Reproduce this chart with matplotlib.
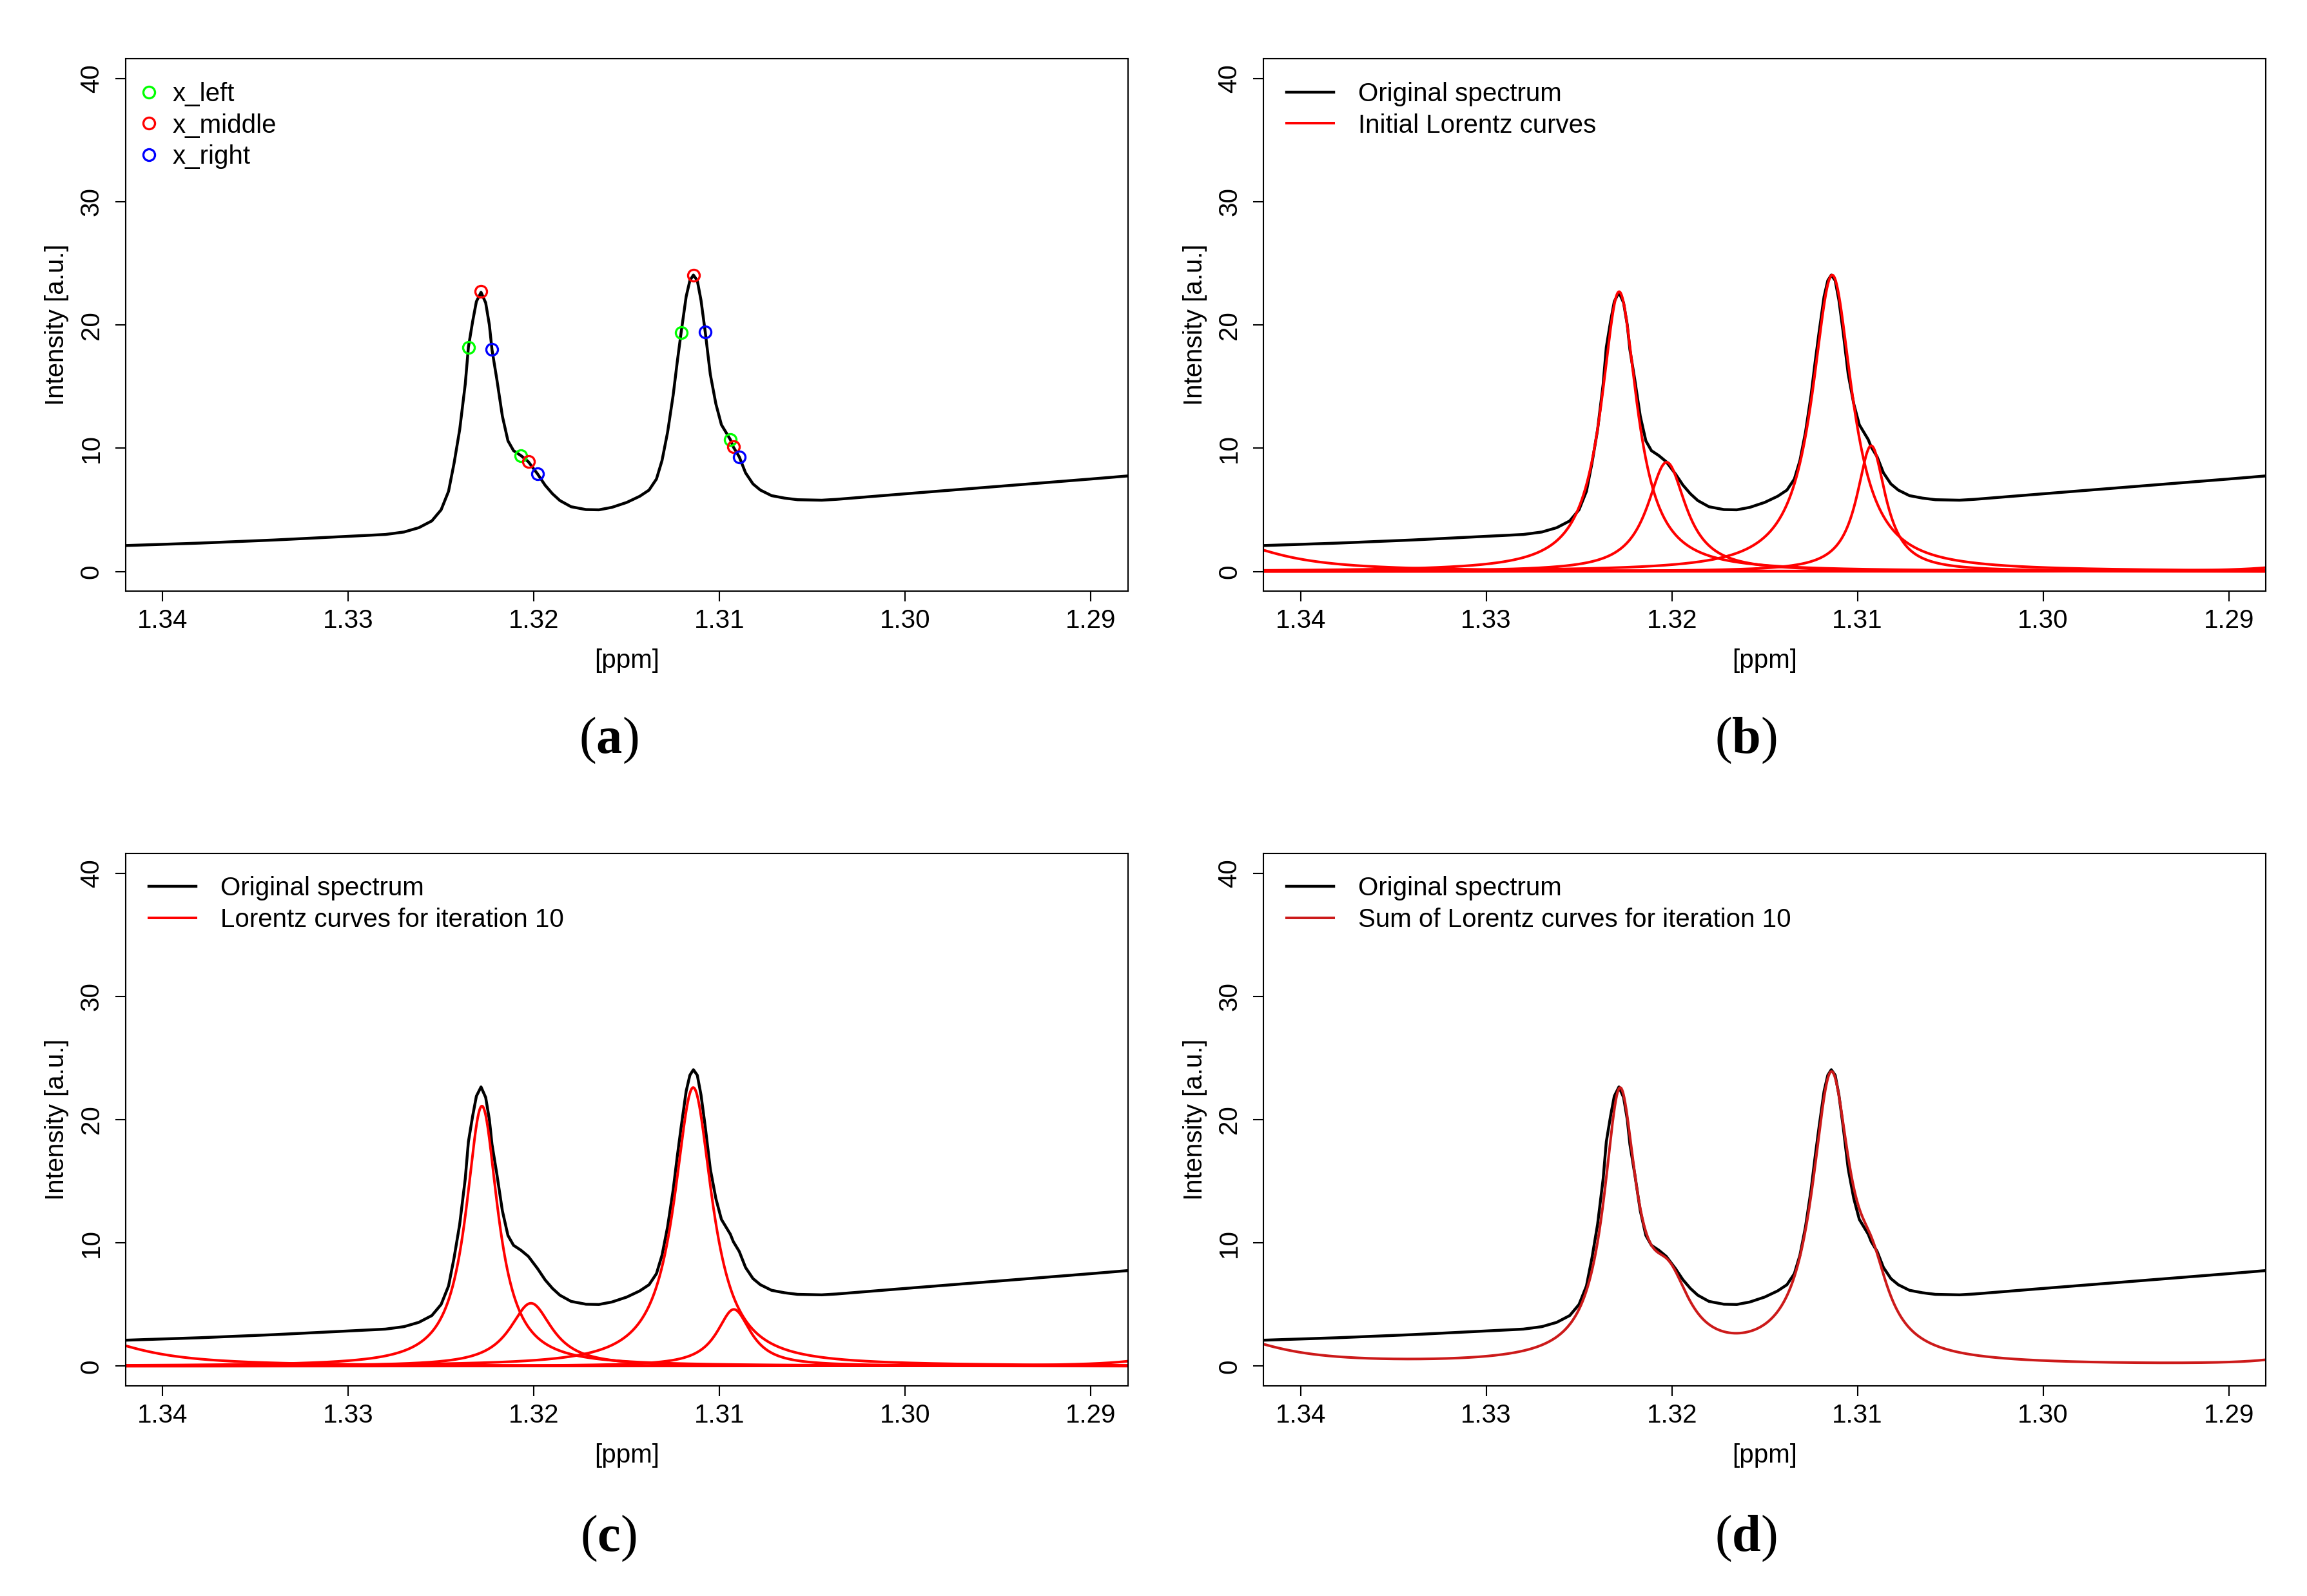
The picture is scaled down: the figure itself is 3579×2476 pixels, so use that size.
import matplotlib
matplotlib.use('Agg')
import matplotlib.pyplot as plt
import numpy as np

plt.rcParams['font.family'] = ['Liberation Sans', 'DejaVu Sans']
plt.rcParams['mathtext.fontset'] = 'custom'
plt.rcParams['mathtext.rm'] = 'Liberation Serif'
plt.rcParams['mathtext.bf'] = 'Liberation Serif:bold'

# original spectrum (ppm, intensity)
spec_ppm = [1.3420, 1.3380, 1.3340, 1.3300, 1.3280, 1.3270, 1.3262, 1.3255, 1.3250,
            1.3246, 1.3243, 1.3240, 1.3237, 1.32353, 1.3233, 1.3231, 1.32285, 1.3226,
            1.3224, 1.32226, 1.3220, 1.3217, 1.3214, 1.3211, 1.3207, 1.3203, 1.3200,
            1.3198, 1.3194, 1.3190, 1.3186, 1.3180, 1.3172, 1.3165, 1.3158, 1.3150,
            1.3143, 1.3138, 1.3134, 1.3131, 1.3128, 1.3125, 1.31228, 1.31207, 1.3118,
            1.3116, 1.31141, 1.3112, 1.3110, 1.31077, 1.3105, 1.3102, 1.3099, 1.30942,
            1.30926, 1.30894, 1.3086, 1.3082, 1.3078, 1.3072, 1.3065, 1.3058, 1.3045,
            1.3037, 1.3000, 1.2950, 1.2900, 1.2880]
spec_int = [2.10, 2.30, 2.55, 2.85, 3.00, 3.20, 3.55, 4.10, 5.00,
            6.50, 8.80, 11.5, 15.2, 18.2, 20.3, 21.9, 22.65, 21.8,
            20.0, 18.0, 15.6, 12.6, 10.6, 9.8, 9.4, 8.9, 8.3,
            7.9, 7.0, 6.3, 5.75, 5.25, 5.02, 5.0, 5.2, 5.6,
            6.1, 6.6, 7.5, 9.0, 11.3, 14.3, 17.0, 19.4, 22.3,
            23.6, 24.05, 23.6, 22.0, 19.4, 16.0, 13.6, 11.9, 10.7,
            10.1, 9.3, 8.0, 7.1, 6.6, 6.15, 5.95, 5.82, 5.78,
            5.85, 6.30, 6.90, 7.50, 7.75]

# x_left / x_middle / x_right markers on the spectrum
left_ppm = [1.32353, 1.3207, 1.31207, 1.30942]
left_int = [18.2, 9.4, 19.4, 10.7]
mid_ppm = [1.32285, 1.3203, 1.31141, 1.30926]
mid_int = [22.7, 8.9, 24.05, 10.1]
right_ppm = [1.32226, 1.3198, 1.31077, 1.30894]
right_int = [18.0, 7.9, 19.45, 9.3]

# Lorentz parameters (centre [ppm], height, half width [ppm])
init_center = [1.32284, 1.32028, 1.31136, 1.30926, 1.3445, 1.2840]
init_height = [22.7, 8.86, 24.05, 10.2, 2.57, 2.5]
init_width = [0.00118, 0.00127, 0.00132, 0.00095, 0.0036, 0.0015]

it10_center = [1.32280, 1.32016, 1.31142, 1.30923, 1.3445, 1.2840]
it10_height = [21.1, 5.1, 22.6, 4.6, 2.45, 2.9]
it10_width = [0.00105, 0.00140, 0.00125, 0.00112, 0.0036, 0.0016]

xgrid = np.linspace(1.342, 1.288, 3000)


def lorentz(x, c, h, w):
    return h * w ** 2 / ((x - c) ** 2 + w ** 2)


FS = 29
LW_BLACK = 3.2
LW_RED = 2.9
fig = plt.figure(figsize=(35.8, 24.76), dpi=100)
W, H = 0.4344, 0.3336
axa = fig.add_axes([0.0544, 0.6296, W, H])
axb = fig.add_axes([0.5475, 0.6296, W, H])
axc = fig.add_axes([0.0544, 0.1317, W, H])
axd = fig.add_axes([0.5475, 0.1317, W, H])


def style(ax):
    ax.set_xlim(1.342, 1.288)
    ax.set_ylim(-1.6, 41.6)
    ax.set_xticks([1.34, 1.33, 1.32, 1.31, 1.30, 1.29])
    ax.set_xticklabels(['1.34', '1.33', '1.32', '1.31', '1.30', '1.29'])
    ax.set_yticks([0, 10, 20, 30, 40])
    for s in ax.spines.values():
        s.set_linewidth(1.5)
    ax.tick_params(axis='both', direction='out', length=11.5, width=1.5, labelsize=FS)
    ax.tick_params(axis='x', pad=8)
    ax.tick_params(axis='y', pad=13, labelrotation=90)
    for lbl in ax.get_yticklabels():
        lbl.set_va('center')
    ax.set_xlabel('[ppm]', fontsize=FS, labelpad=17)
    ax.set_ylabel('Intensity [a.u.]', fontsize=FS, labelpad=11)


for ax in (axa, axb, axc, axd):
    style(ax)

# (a)
axa.plot(spec_ppm, spec_int, color='black', lw=LW_BLACK)
axa.plot(left_ppm, left_int, ls='none', marker='o', ms=13, mfc='none', mec='#00FF00', mew=2.4, label='x_left')
axa.plot(mid_ppm, mid_int, ls='none', marker='o', ms=13, mfc='none', mec='#FF0000', mew=2.4, label='x_middle')
axa.plot(right_ppm, right_int, ls='none', marker='o', ms=13, mfc='none', mec='#0000FF', mew=2.4, label='x_right')
axa.legend(loc='upper left', bbox_to_anchor=(0.0103, 0.957), frameon=False, fontsize=FS,
           borderaxespad=0, borderpad=0, handlelength=1.0, handletextpad=0.4,
           labelspacing=0.27, numpoints=1)

# (b)
axb.plot(spec_ppm, spec_int, color='black', lw=LW_BLACK, label='Original spectrum')
for i, (c, h, w) in enumerate(zip(init_center, init_height, init_width)):
    axb.plot(xgrid, lorentz(xgrid, c, h, w), color='#FF0000', lw=LW_RED,
             label='Initial Lorentz curves' if i == 0 else None)

# (c)
axc.plot(spec_ppm, spec_int, color='black', lw=LW_BLACK, label='Original spectrum')
for i, (c, h, w) in enumerate(zip(it10_center, it10_height, it10_width)):
    axc.plot(xgrid, lorentz(xgrid, c, h, w), color='#FF0000', lw=LW_RED,
             label='Lorentz curves for iteration 10' if i == 0 else None)

# (d)
total = np.zeros_like(xgrid)
for c, h, w in zip(it10_center, it10_height, it10_width):
    total += lorentz(xgrid, c, h, w)
axd.plot(spec_ppm, spec_int, color='black', lw=LW_BLACK, label='Original spectrum')
axd.plot(xgrid, total, color='#CC1A1A', lw=LW_RED, label='Sum of Lorentz curves for iteration 10')

for ax in (axb, axc, axd):
    ax.legend(loc='upper left', bbox_to_anchor=(0.0232, 0.957), frameon=False, fontsize=FS,
              borderaxespad=0, borderpad=0, handlelength=1.81, handletextpad=0.94,
              labelspacing=0.27)

# captions
for x, y, s in [(0.2636, 0.536, 'a'), (0.7566, 0.536, 'b'), (0.2636, 0.036, 'c'), (0.7566, 0.036, 'd')]:
    fig.text(x, y, r'$(\mathbf{%s})$' % s, fontsize=58, ha='center', va='center')

fig.savefig('out.png', dpi=100)
